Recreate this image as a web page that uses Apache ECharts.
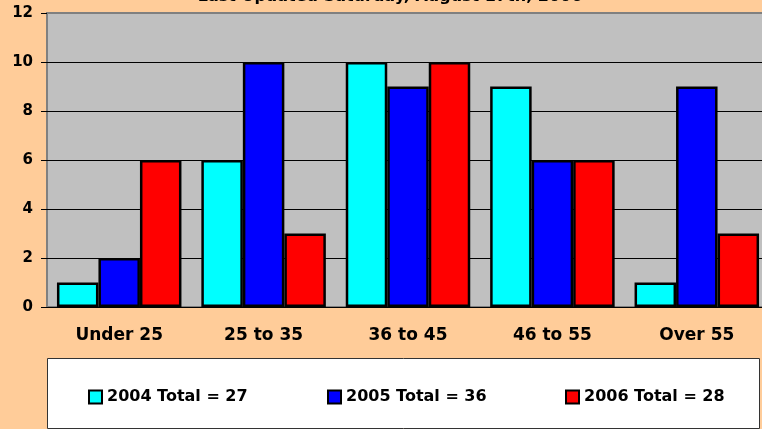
<!DOCTYPE html>
<html>
<head>
<meta charset="utf-8">
<script src="https://cdn.jsdelivr.net/npm/echarts@6/dist/echarts.min.js"></script>
<style>
  html, body { margin: 0; padding: 0; background: #FFCC99; }
  #chart { width: 762px; height: 429px; }
</style>
</head>
<body>
<div id="chart"></div>
<script>
// age groups along the bottom
const categories = ['Under 25', '25 to 35', '36 to 45', '46 to 55', 'Over 55'];

// members per age group, by year
const values2004 = [1, 6, 10, 9, 1];
const values2005 = [2, 10, 9, 6, 9];
const values2006 = [6, 3, 10, 6, 3];

const seriesNames = ['2004 Total = 27', '2005 Total = 36', '2006 Total = 28'];
const seriesColors = ['#00FFFF', '#0000FF', '#FF0000'];

const titleText = 'Last Updated Saturday, August 17th, 2006';
// the original text is stretched wide, DejaVu Sans Bold is close to it
const font = '"DejaVu Sans", Arial, sans-serif';

const chart = echarts.init(document.getElementById('chart'));

const seriesData = [values2004, values2005, values2006];
const legendLeft = [83, 322, 560];

const option = {
    backgroundColor: '#FFCC99',
    animation: false,
    title: {
        text: titleText,
        left: 390,
        textAlign: 'center',
        top: -11,
        padding: 0,
        textStyle: { fontFamily: font, fontSize: 16, fontWeight: 'bold', color: '#000' }
    },
    graphic: [{
        type: 'rect',
        z: 0,
        shape: { x: 47.5, y: 358.5, width: 712, height: 70 },
        style: { fill: '#FFFFFF', stroke: '#333333', lineWidth: 1 }
    }],
    legend: seriesNames.map((name, i) => ({
        data: [name],
        left: legendLeft[i],
        top: 384,
        z: 5,
        itemWidth: 13,
        itemHeight: 13,
        itemGap: 0,
        icon: 'rect',
        selectedMode: false,
        textStyle: { fontFamily: font, fontSize: 16, fontWeight: 'bold', color: '#000' },
        itemStyle: { borderColor: '#000', borderWidth: 2 }
    })),
    grid: {
        left: 47,
        width: 722,
        top: 13,
        bottom: 122,
        outerBoundsMode: 'none',
        show: true,
        backgroundColor: '#C0C0C0',
        borderColor: '#808080',
        borderWidth: 2
    },
    xAxis: {
        type: 'category',
        data: categories,
        axisLine: { lineStyle: { color: '#000', width: 1 } },
        axisTick: { length: 5, lineStyle: { color: '#000' } },
        axisLabel: { fontFamily: font, fontSize: 17, fontWeight: 'bold', color: '#000', margin: 20 }
    },
    yAxis: {
        type: 'value',
        min: 0,
        max: 12,
        interval: 2,
        axisLine: { show: false },
        axisTick: { show: true, length: 6, lineStyle: { color: '#000' } },
        axisLabel: { fontFamily: font, fontSize: 15, fontWeight: 'bold', color: '#000', margin: 14 },
        splitLine: {
            lineStyle: {
                color: ['#000', '#000', '#000', '#000', '#000', '#000', '#808080'],
                width: 1
            }
        }
    },
    series: seriesNames.map((name, i) => ({
        name: name,
        type: 'bar',
        data: seriesData[i],
        barWidth: 41.5,
        barGap: '0%',
        itemStyle: { color: seriesColors[i], borderColor: '#000', borderWidth: 2.5 }
    }))
};

chart.setOption(option);
</script>
</body>
</html>
